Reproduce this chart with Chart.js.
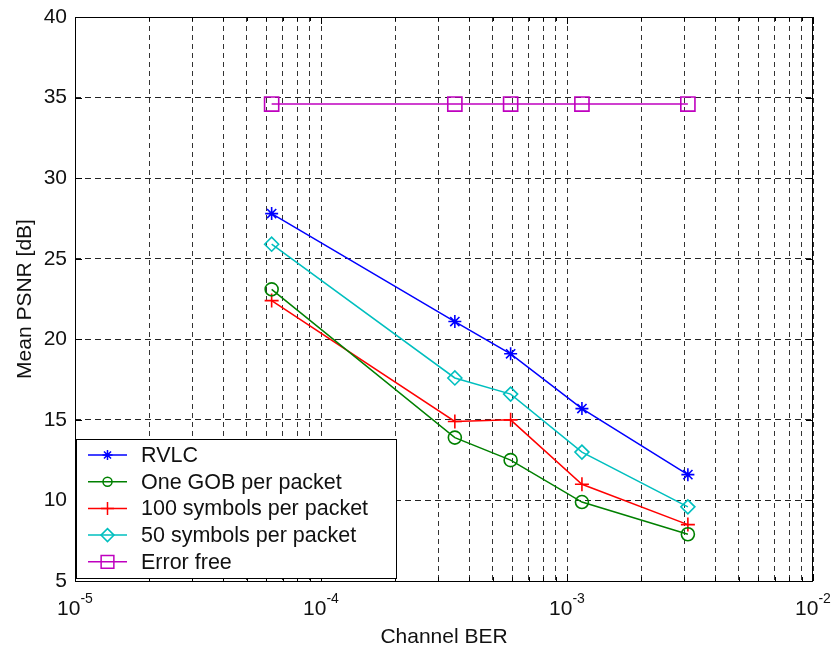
<!DOCTYPE html>
<html>
<head>
<meta charset="utf-8">
<title>Mean PSNR vs Channel BER</title>
<script src="https://cdn.jsdelivr.net/npm/chart.js@4/dist/chart.umd.min.js"></script>
<style>
  html, body { margin: 0; padding: 0; background: #ffffff; }
  #wrap { width: 833px; height: 651px; }
</style>
</head>
<body>
<div id="wrap"><canvas id="c" width="833" height="651"></canvas></div>
<script>
// Channel bit error rates at which each scheme was measured
const berValues = [6.3e-5, 3.5e-4, 5.9e-4, 1.15e-3, 3.1e-3];

// Mean PSNR [dB] per scheme
const rvlc       = [27.8, 21.1, 19.1, 15.7, 11.6];
const oneGob     = [23.1, 13.9, 12.5, 9.9, 7.9];
const sym100     = [22.4, 14.9, 15.0, 11.0, 8.5];
const sym50      = [25.9, 17.6, 16.6, 13.0, 9.6];
const errorFree  = [34.6, 34.6, 34.6, 34.6, 34.6];

const seriesNames = ['RVLC', 'One GOB per packet', '100 symbols per packet', '50 symbols per packet', 'Error free'];

// Axis ticks
const yTicks = [5, 10, 15, 20, 25, 30, 35, 40];
const xDecades = [1e-5, 1e-4, 1e-3, 1e-2];
const xDecadeExponents = ['-5', '-4', '-3', '-2'];

const FONT = "'Liberation Sans', Arial, Helvetica, sans-serif";

// Minor grid positions 1..9 x 10^k across the decades
const xGridValues = [];
for (let d = 0; d < xDecades.length; d++) {
  if (d === xDecades.length - 1) { xGridValues.push(xDecades[d]); break; }
  for (let m = 1; m <= 9; m++) xGridValues.push(+(m * xDecades[d]).toPrecision(3));
}

function pts(ys) { return berValues.map((x, i) => ({ x: x, y: ys[i] })); }

const styles = [
  { color: '#0000ff', pointStyle: 'star',    radius: 6.5, legendRadius: 5 },
  { color: '#008000', pointStyle: 'circle',  radius: 6.5, legendRadius: 4.5 },
  { color: '#ff0000', pointStyle: 'cross',   radius: 7,   legendRadius: 6.5 },
  { color: '#00bfbf', pointStyle: 'rectRot', radius: 7,   legendRadius: 6.5 },
  { color: '#bf00bf', pointStyle: 'rect',    radius: 10,  legendRadius: 9 }
];
const seriesData = [rvlc, oneGob, sym100, sym50, errorFree];

const datasets = seriesData.map((ys, i) => ({
  label: seriesNames[i],
  data: pts(ys),
  borderColor: styles[i].color,
  backgroundColor: 'rgba(0,0,0,0)',
  borderWidth: 1.5,
  pointStyle: styles[i].pointStyle,
  pointRadius: styles[i].radius,
  pointBorderColor: styles[i].color,
  pointBackgroundColor: 'rgba(0,0,0,0)',
  pointBorderWidth: 1.6,
  tension: 0,
  fill: false
}));

// Frame, inward ticks, decade labels, axis titles and boxed legend
const decorations = {
  id: 'decorations',
  afterDatasetsDraw(chart) {
    const ctx = chart.ctx;
    const a = chart.chartArea;
    const xs = chart.scales.x, ys = chart.scales.y;
    ctx.save();

    // frame
    ctx.strokeStyle = '#000';
    ctx.lineWidth = 1;
    ctx.setLineDash([]);
    ctx.strokeRect(Math.round(a.left) + 0.5, Math.round(a.top) + 0.5,
                   Math.round(a.right - a.left) - 1, Math.round(a.bottom - a.top));

    // inward ticks
    ctx.beginPath();
    yTicks.forEach(v => {
      const y = Math.round(ys.getPixelForValue(v)) + 0.5;
      ctx.moveTo(a.left, y); ctx.lineTo(a.left + 7, y);
      ctx.moveTo(a.right, y); ctx.lineTo(a.right - 7, y);
    });
    xGridValues.forEach(v => {
      const x = Math.round(xs.getPixelForValue(v)) + 0.5;
      const major = xDecades.includes(v);
      const len = major ? 7 : 4;
      ctx.moveTo(x, a.bottom); ctx.lineTo(x, a.bottom - len);
      ctx.moveTo(x, a.top); ctx.lineTo(x, a.top + len);
    });
    ctx.stroke();

    // decade labels 10^k
    ctx.fillStyle = '#111';
    ctx.textBaseline = 'alphabetic';
    ctx.textAlign = 'left';
    xDecades.forEach((v, i) => {
      const x = xs.getPixelForValue(v);
      ctx.font = '21px ' + FONT;
      const wBase = ctx.measureText('10').width;
      ctx.font = '14px ' + FONT;
      const wExp = ctx.measureText(xDecadeExponents[i]).width;
      const x0 = x - (wBase + wExp) / 2;
      ctx.font = '21px ' + FONT;
      ctx.fillText('10', x0, a.bottom + 34);
      ctx.font = '14px ' + FONT;
      ctx.fillText(xDecadeExponents[i], x0 + wBase, a.bottom + 22);
    });

    // axis titles
    ctx.font = '21px ' + FONT;
    ctx.textAlign = 'center';
    ctx.fillText('Channel BER', (a.left + a.right) / 2, 643);
    ctx.save();
    ctx.translate(31, (a.top + a.bottom) / 2);
    ctx.rotate(-Math.PI / 2);
    ctx.fillText('Mean PSNR [dB]', 0, 0);
    ctx.restore();

    // legend box
    const lx = 76, ly = 439, lw = 320, lh = 139;
    ctx.fillStyle = '#fff';
    ctx.fillRect(lx, ly, lw, lh);
    ctx.strokeStyle = '#000';
    ctx.lineWidth = 1;
    ctx.strokeRect(lx + 0.5, ly + 0.5, lw, lh);
    ctx.font = '21.5px ' + FONT;
    ctx.textAlign = 'left';
    ctx.textBaseline = 'middle';
    chart.data.datasets.forEach((ds, i) => {
      const y = ly + 16 + i * 26.7;
      ctx.strokeStyle = ds.borderColor;
      ctx.lineWidth = 1.5;
      ctx.beginPath();
      ctx.moveTo(88, y); ctx.lineTo(127, y);
      ctx.stroke();
      ctx.fillStyle = 'rgba(0,0,0,0)';
      Chart.helpers.drawPoint(ctx, {
        pointStyle: styles[i].pointStyle,
        radius: styles[i].legendRadius,
        rotation: 0,
        borderWidth: 1.5
      }, 107.5, y);
      ctx.fillStyle = '#111';
      ctx.fillText(ds.label, 141, y + 1);
    });

    ctx.restore();
  }
};

Chart.defaults.font.family = FONT;
Chart.defaults.font.size = 21;
Chart.defaults.color = '#111';

new Chart(document.getElementById('c'), {
  type: 'line',
  data: { datasets: datasets },
  options: {
    responsive: false,
    animation: false,
    devicePixelRatio: 1,
    layout: { padding: { left: 0, top: 17, right: 20, bottom: 0 } },
    plugins: { legend: { display: false }, tooltip: { enabled: false } },
    scales: {
      x: {
        type: 'logarithmic',
        min: xDecades[0],
        max: xDecades[xDecades.length - 1],
        afterBuildTicks: s => { s.ticks = xGridValues.map(v => ({ value: v })); },
        afterFit: s => { s.height = 70; s.paddingLeft = 0; s.paddingRight = 0; },
        ticks: { display: false },
        grid: { color: '#333', lineWidth: 1, drawTicks: false },
        border: { display: false, dash: [5, 4] }
      },
      y: {
        type: 'linear',
        min: 5,
        max: 40,
        afterBuildTicks: s => { s.ticks = yTicks.map(v => ({ value: v })); },
        afterFit: s => { s.width = 75; s.paddingTop = 0; s.paddingBottom = 0; },
        ticks: { padding: 8, font: { size: 21 } },
        grid: { color: '#222', lineWidth: 1, drawTicks: false },
        border: { display: false, dash: [6, 4] }
      }
    }
  },
  plugins: [decorations]
});
</script>
</body>
</html>
